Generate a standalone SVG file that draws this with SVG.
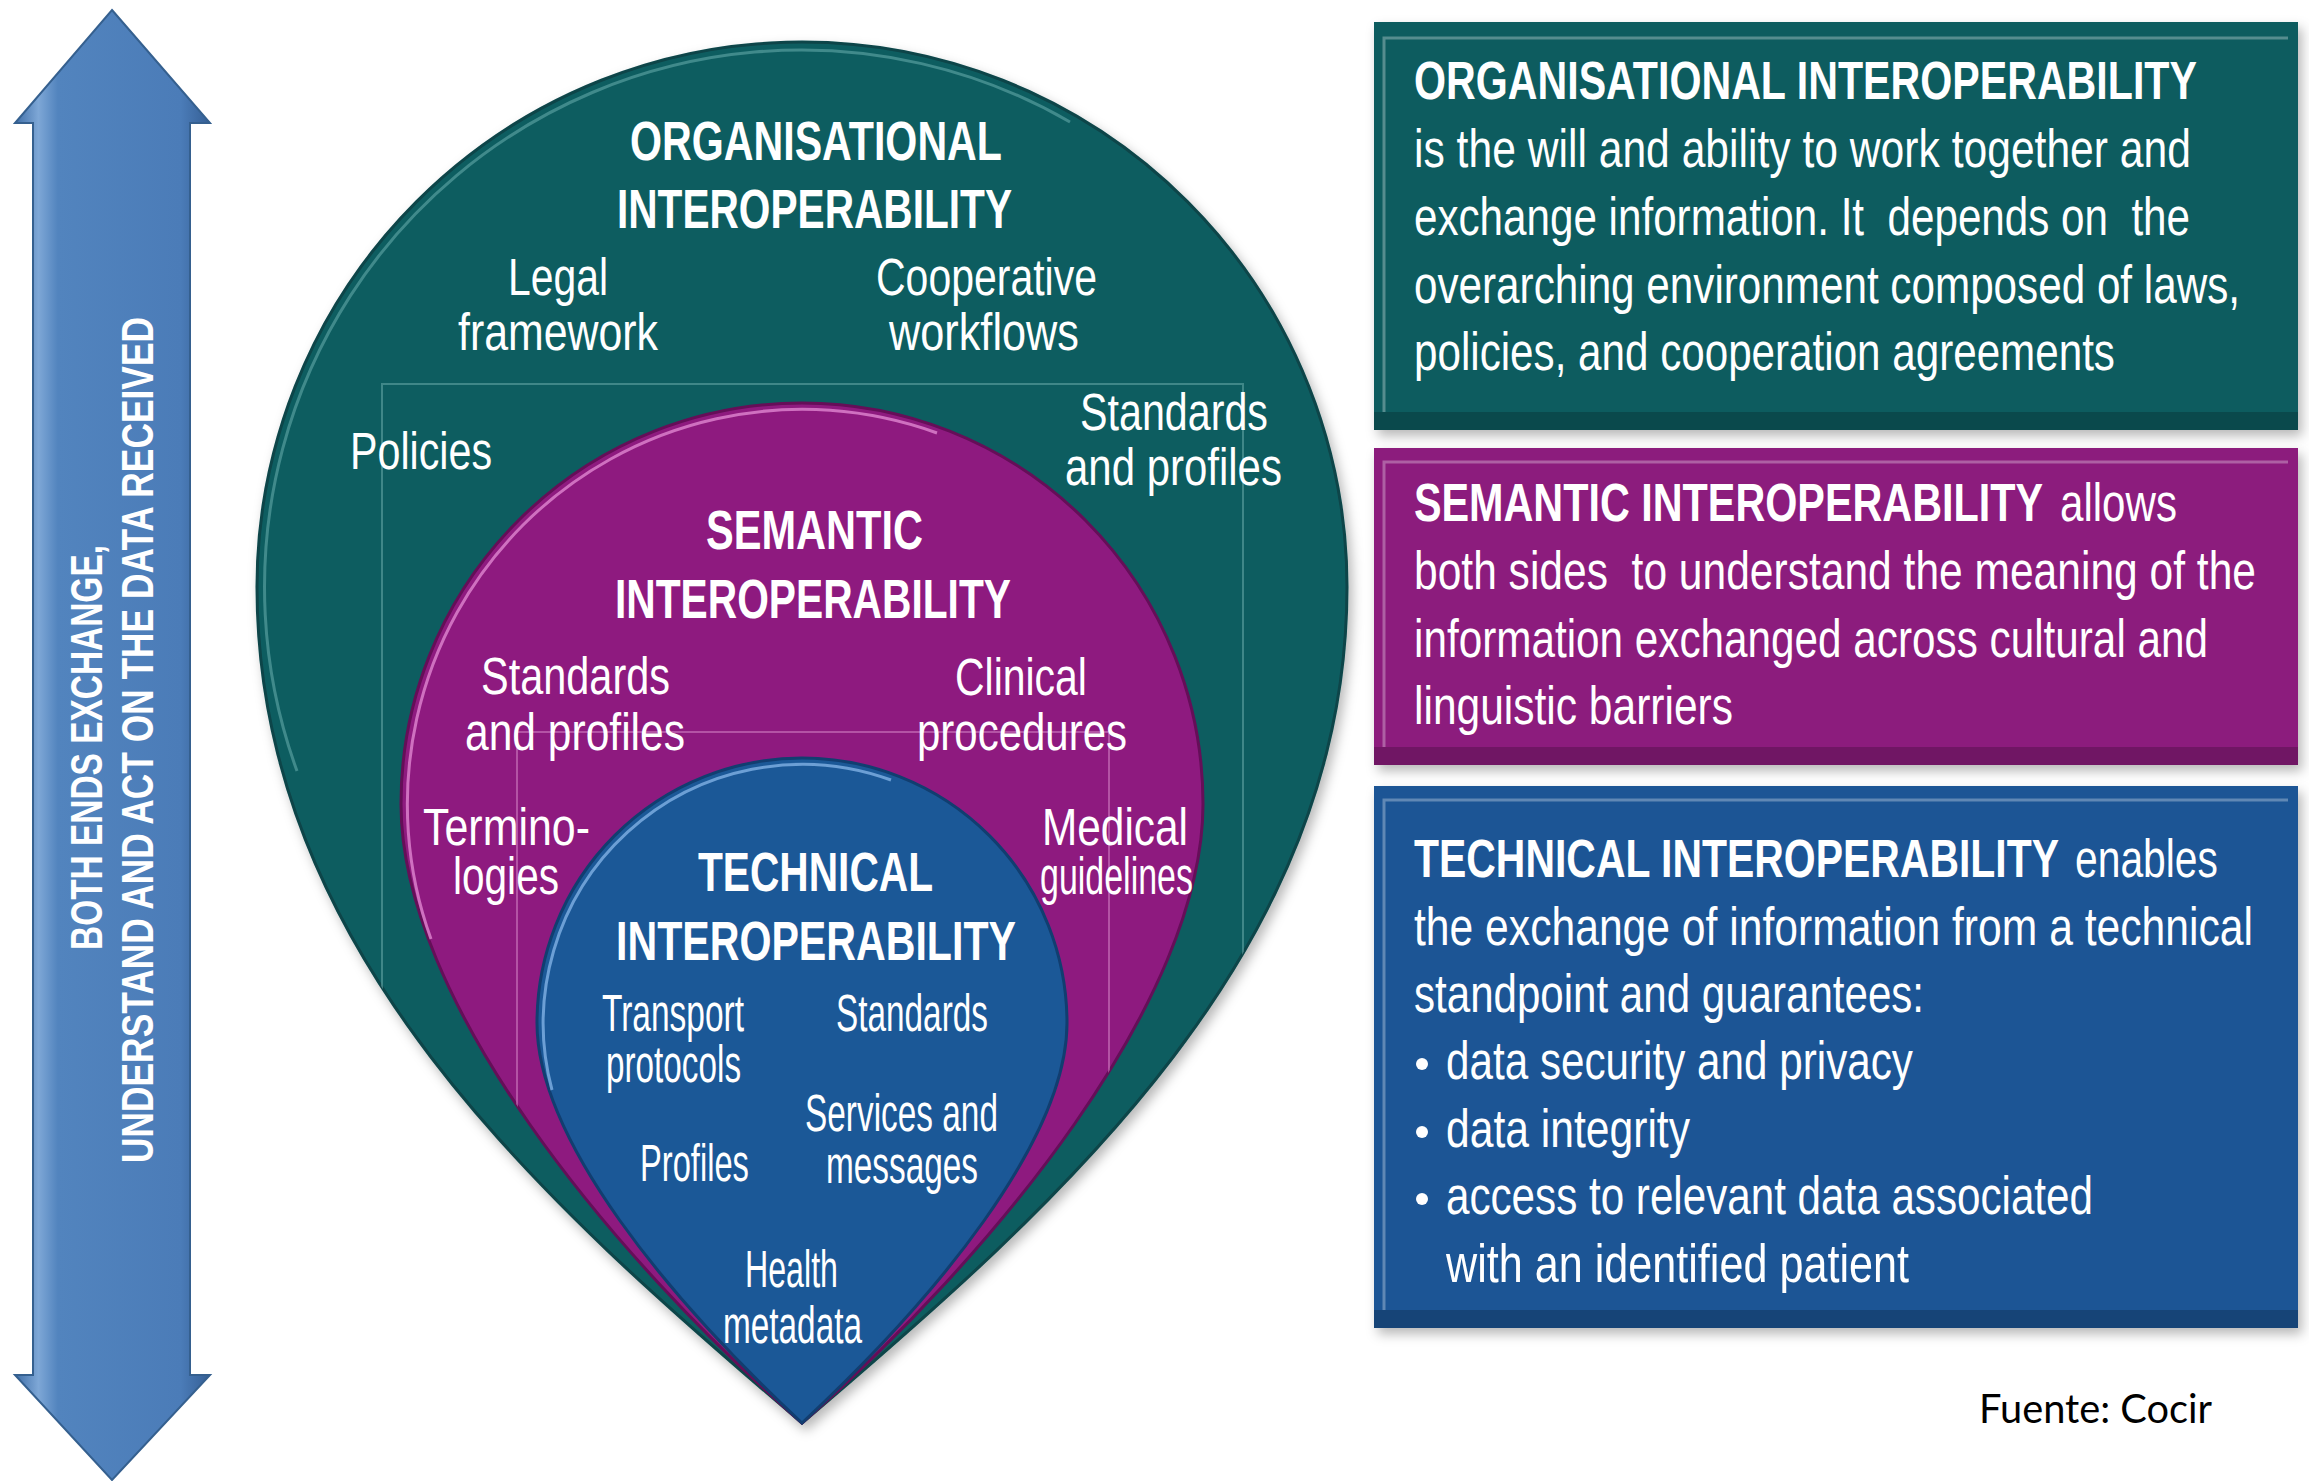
<svg xmlns="http://www.w3.org/2000/svg" width="2309" height="1481" viewBox="0 0 2309 1481">
<style>
  .t { font-family: "Liberation Sans", Arial, sans-serif; fill: #ffffff; }
  .lbl { font-size: 51px; }
  .ttl { font-size: 55px; font-weight: bold; }
  .bx { font-size: 54px; }
  .bxb { font-size: 54px; font-weight: bold; }
  .pre { white-space: pre; }
  .arr { font-family: "Liberation Sans", Arial, sans-serif; font-size: 44px; font-weight: bold; fill: #ffffff; }
  .src { font-family: Lato, "Open Sans", "Liberation Sans", sans-serif; font-size: 40px; fill: #000000; }
  .grid { fill: none; stroke-width: 2; }
</style>
<defs>
  <filter id="sh" x="-10%" y="-10%" width="125%" height="125%">
    <feDropShadow dx="4" dy="6" stdDeviation="6" flood-color="#000" flood-opacity="0.28"/>
  </filter>
  <linearGradient id="arrG" x1="0" y1="0" x2="1" y2="0">
    <stop offset="0" stop-color="#3e6ea8"/>
    <stop offset="0.12" stop-color="#7ea7d6"/>
    <stop offset="0.22" stop-color="#5284be"/>
    <stop offset="0.85" stop-color="#4b7cb8"/>
    <stop offset="1" stop-color="#355f95"/>
  </linearGradient>
  <path id="tealP" d="M 257 587 A 545 545 0 0 1 1347 587 C 1347 950, 1064 1200, 802 1423 C 540 1200, 257 950, 257 587 Z"/>
  <path id="magP" d="M 401 804 A 401 401 0 0 1 1203 804 C 1203 1000, 994 1255, 802 1423 C 610 1255, 401 1000, 401 804 Z"/>
  <path id="bluP" d="M 537 1023 A 265 265 0 0 1 1067 1023 C 1067 1140, 934 1300, 802 1423 C 670 1300, 537 1140, 537 1023 Z"/>
  <clipPath id="clipT"><use href="#tealP"/></clipPath>
  <clipPath id="clipM"><use href="#magP"/></clipPath>
</defs>

<rect x="0" y="0" width="2309" height="1481" fill="#ffffff"/>

<!-- double-headed arrow -->
<g id="arrow">
  <path d="M 112 10 L 210 123 L 190 123 L 190 1375 L 210 1375 L 112 1480 L 15 1375 L 33 1375 L 33 123 L 15 123 Z" fill="url(#arrG)" stroke="#35608f" stroke-width="2" stroke-linejoin="miter"/>
  <text class="arr" transform="translate(102,950) rotate(-90) scale(0.78,1)" x="0" y="0" textLength="519.2" lengthAdjust="spacingAndGlyphs">BOTH ENDS EXCHANGE,</text>
  <text class="arr" transform="translate(153,1163) rotate(-90) scale(0.78,1)" x="0" y="0" textLength="1084.6" lengthAdjust="spacingAndGlyphs">UNDERSTAND AND ACT ON THE DATA RECEIVED</text>
</g>

<!-- organisational (teal) -->
<g id="organisational">
  <use href="#tealP" fill="#0f5d61" stroke="#0a4548" stroke-width="3" filter="url(#sh)"/>
  <path d="M 297 771 A 537 537 0 0 1 1070 122" fill="none" stroke="#7fc0c0" stroke-opacity="0.45" stroke-width="3"/>
  <g clip-path="url(#clipT)">
    <path class="grid" d="M 382 1200 V 384 H 1243 V 1200" stroke="#6aa9a9" stroke-opacity="0.55"/>
  </g>
  <text class="t ttl" transform="matrix(0.74,0,0,1,163.8,0)" x="630" y="160" textLength="502.7" lengthAdjust="spacingAndGlyphs">ORGANISATIONAL</text>
  <text class="t ttl" transform="matrix(0.74,0,0,1,160.42,0)" x="617" y="228" textLength="533.8" lengthAdjust="spacingAndGlyphs">INTEROPERABILITY</text>
  <text class="t lbl" transform="matrix(0.83,0,0,1,86.36,0)" x="508" y="295" textLength="120.5" lengthAdjust="spacingAndGlyphs">Legal</text>
  <text class="t lbl" transform="matrix(0.83,0,0,1,77.86,0)" x="458" y="350" textLength="241" lengthAdjust="spacingAndGlyphs">framework</text>
  <text class="t lbl" transform="matrix(0.83,0,0,1,148.92,0)" x="876" y="295" textLength="266.3" lengthAdjust="spacingAndGlyphs">Cooperative</text>
  <text class="t lbl" transform="matrix(0.83,0,0,1,151.13,0)" x="889" y="350" textLength="228.9" lengthAdjust="spacingAndGlyphs">workflows</text>
  <text class="t lbl" transform="matrix(0.83,0,0,1,59.5,0)" x="350" y="469" textLength="171.1" lengthAdjust="spacingAndGlyphs">Policies</text>
  <text class="t lbl" transform="matrix(0.83,0,0,1,183.6,0)" x="1080" y="430" textLength="226.5" lengthAdjust="spacingAndGlyphs">Standards</text>
  <text class="t lbl" transform="matrix(0.83,0,0,1,181.05,0)" x="1065" y="485" textLength="261.4" lengthAdjust="spacingAndGlyphs">and profiles</text>
</g>

<!-- semantic (magenta) -->
<g id="semantic">
  <use href="#magP" fill="#8e1a7f" stroke="#650e58" stroke-width="3"/>
  <path d="M 431 939 A 395 395 0 0 1 937 433" fill="none" stroke="#eb95dc" stroke-opacity="0.7" stroke-width="3"/>
  <g clip-path="url(#clipM)">
    <path class="grid" d="M 517 1300 V 732 H 1109 V 1300" stroke="#d98ccb" stroke-opacity="0.5"/>
  </g>
  <text class="t ttl" transform="matrix(0.74,0,0,1,183.56,0)" x="706" y="549" textLength="293.2" lengthAdjust="spacingAndGlyphs">SEMANTIC</text>
  <text class="t ttl" transform="matrix(0.74,0,0,1,159.9,0)" x="615" y="618" textLength="535.1" lengthAdjust="spacingAndGlyphs">INTEROPERABILITY</text>
  <text class="t lbl" transform="matrix(0.83,0,0,1,81.77,0)" x="481" y="694" textLength="227.7" lengthAdjust="spacingAndGlyphs">Standards</text>
  <text class="t lbl" transform="matrix(0.83,0,0,1,79.05,0)" x="465" y="750" textLength="265.1" lengthAdjust="spacingAndGlyphs">and profiles</text>
  <text class="t lbl" transform="matrix(0.83,0,0,1,162.35,0)" x="955" y="695" textLength="159" lengthAdjust="spacingAndGlyphs">Clinical</text>
  <text class="t lbl" transform="matrix(0.83,0,0,1,155.89,0)" x="917" y="750" textLength="253" lengthAdjust="spacingAndGlyphs">procedures</text>
  <text class="t lbl" transform="matrix(0.83,0,0,1,71.91,0)" x="423" y="845" textLength="201.2" lengthAdjust="spacingAndGlyphs">Termino-</text>
  <text class="t lbl" transform="matrix(0.83,0,0,1,77.01,0)" x="453" y="894" textLength="127.7" lengthAdjust="spacingAndGlyphs">logies</text>
  <text class="t lbl" transform="matrix(0.83,0,0,1,177.14,0)" x="1042" y="845" textLength="175.9" lengthAdjust="spacingAndGlyphs">Medical</text>
  <text class="t lbl" transform="matrix(0.83,0,0,1,176.8,0)" x="1040" y="894" textLength="184.3" lengthAdjust="spacingAndGlyphs">guidelines</text>
</g>

<!-- technical (blue) -->
<g id="technical">
  <use href="#bluP" fill="#1b5897" stroke="#113e70" stroke-width="3"/>
  <path d="M 552 1090 A 259 259 0 0 1 891 780" fill="none" stroke="#8fbdf0" stroke-opacity="0.7" stroke-width="3"/>
  <text class="t ttl" transform="matrix(0.74,0,0,1,181.48,0)" x="698" y="891" textLength="317.6" lengthAdjust="spacingAndGlyphs">TECHNICAL</text>
  <text class="t ttl" transform="matrix(0.74,0,0,1,160.16,0)" x="616" y="960" textLength="540.5" lengthAdjust="spacingAndGlyphs">INTEROPERABILITY</text>
  <text class="t lbl" transform="matrix(0.83,0,0,1,102.34,0)" x="602" y="1031" textLength="171.1" lengthAdjust="spacingAndGlyphs">Transport</text>
  <text class="t lbl" transform="matrix(0.83,0,0,1,103.02,0)" x="606" y="1082" textLength="162.7" lengthAdjust="spacingAndGlyphs">protocols</text>
  <text class="t lbl" transform="matrix(0.83,0,0,1,142.12,0)" x="836" y="1031" textLength="183.1" lengthAdjust="spacingAndGlyphs">Standards</text>
  <text class="t lbl" transform="matrix(0.83,0,0,1,136.85,0)" x="805" y="1131" textLength="232.5" lengthAdjust="spacingAndGlyphs">Services and</text>
  <text class="t lbl" transform="matrix(0.83,0,0,1,140.42,0)" x="826" y="1183" textLength="183.1" lengthAdjust="spacingAndGlyphs">messages</text>
  <text class="t lbl" transform="matrix(0.83,0,0,1,108.8,0)" x="640" y="1181" textLength="131.3" lengthAdjust="spacingAndGlyphs">Profiles</text>
  <text class="t lbl" transform="matrix(0.83,0,0,1,126.65,0)" x="745" y="1287" textLength="112" lengthAdjust="spacingAndGlyphs">Health</text>
  <text class="t lbl" transform="matrix(0.83,0,0,1,122.91,0)" x="723" y="1343" textLength="167.5" lengthAdjust="spacingAndGlyphs">metadata</text>
</g>

<!-- description boxes -->
<g id="box-organisational">
  <rect x="1374" y="22" width="924" height="408" fill="#0f5c5e" filter="url(#sh)"/>
  <rect x="1374" y="412" width="924" height="18" fill="#000" fill-opacity="0.2"/>
  <path d="M 1384 412 V 38 H 2288" fill="none" stroke="#ffffff" stroke-opacity="0.3" stroke-width="3"/>
  <text class="t bxb" transform="matrix(0.75,0,0,1,353.5,0)" x="1414" y="99" textLength="1044" lengthAdjust="spacingAndGlyphs">ORGANISATIONAL INTEROPERABILITY</text>
  <text class="t bx" transform="matrix(0.79,0,0,1,296.94,0)" x="1414" y="167" textLength="983.5" lengthAdjust="spacingAndGlyphs">is the will and ability to work together and</text>
  <text class="t bx pre" transform="matrix(0.79,0,0,1,296.94,0)" x="1414" y="235" textLength="982.3" lengthAdjust="spacingAndGlyphs">exchange information. It  depends on  the</text>
  <text class="t bx" transform="matrix(0.79,0,0,1,296.94,0)" x="1414" y="303" textLength="1045.6" lengthAdjust="spacingAndGlyphs">overarching environment composed of laws,</text>
  <text class="t bx" transform="matrix(0.79,0,0,1,296.94,0)" x="1414" y="370" textLength="887.3" lengthAdjust="spacingAndGlyphs">policies, and cooperation agreements</text>
</g>

<g id="box-semantic">
  <rect x="1374" y="448" width="924" height="317" fill="#8c1b7d" filter="url(#sh)"/>
  <rect x="1374" y="747" width="924" height="18" fill="#000" fill-opacity="0.2"/>
  <path d="M 1384 747 V 462 H 2288" fill="none" stroke="#ffffff" stroke-opacity="0.3" stroke-width="3"/>
  <text class="t bxb" transform="matrix(0.75,0,0,1,353.5,0)" x="1414" y="521" textLength="838.7" lengthAdjust="spacingAndGlyphs">SEMANTIC INTEROPERABILITY</text>
  <text class="t bx" transform="matrix(0.79,0,0,1,432.6,0)" x="2060" y="521" textLength="148.1" lengthAdjust="spacingAndGlyphs">allows</text>
  <text class="t bx pre" transform="matrix(0.79,0,0,1,296.94,0)" x="1414" y="589" textLength="1065.8" lengthAdjust="spacingAndGlyphs">both sides  to understand the meaning of the</text>
  <text class="t bx" transform="matrix(0.79,0,0,1,296.94,0)" x="1414" y="657" textLength="1005.1" lengthAdjust="spacingAndGlyphs">information exchanged across cultural and</text>
  <text class="t bx" transform="matrix(0.79,0,0,1,296.94,0)" x="1414" y="724" textLength="403.8" lengthAdjust="spacingAndGlyphs">linguistic barriers</text>
</g>

<g id="box-technical">
  <rect x="1374" y="786" width="924" height="542" fill="#1a5595" filter="url(#sh)"/>
  <rect x="1374" y="1310" width="924" height="18" fill="#000" fill-opacity="0.2"/>
  <path d="M 1384 1310 V 800 H 2288" fill="none" stroke="#ffffff" stroke-opacity="0.3" stroke-width="3"/>
  <text class="t bxb" transform="matrix(0.75,0,0,1,353.5,0)" x="1414" y="877" textLength="860" lengthAdjust="spacingAndGlyphs">TECHNICAL INTEROPERABILITY</text>
  <text class="t bx" transform="matrix(0.79,0,0,1,435.75,0)" x="2075" y="877" textLength="181" lengthAdjust="spacingAndGlyphs">enables</text>
  <text class="t bx" transform="matrix(0.79,0,0,1,296.94,0)" x="1414" y="945" textLength="1062" lengthAdjust="spacingAndGlyphs">the exchange of information from a technical</text>
  <text class="t bx" transform="matrix(0.79,0,0,1,296.94,0)" x="1414" y="1012" textLength="645.6" lengthAdjust="spacingAndGlyphs">standpoint and guarantees:</text>
  <circle cx="1422" cy="1064" r="6" fill="#ffffff"/>
  <text class="t bx" transform="matrix(0.79,0,0,1,303.66,0)" x="1446" y="1079" textLength="591.1" lengthAdjust="spacingAndGlyphs">data security and privacy</text>
  <circle cx="1422" cy="1132" r="6" fill="#ffffff"/>
  <text class="t bx" transform="matrix(0.79,0,0,1,303.66,0)" x="1446" y="1147" textLength="308.9" lengthAdjust="spacingAndGlyphs">data integrity</text>
  <circle cx="1422" cy="1199" r="6" fill="#ffffff"/>
  <text class="t bx" transform="matrix(0.79,0,0,1,303.66,0)" x="1446" y="1214" textLength="819" lengthAdjust="spacingAndGlyphs">access to relevant data associated</text>
  <text class="t bx" transform="matrix(0.79,0,0,1,303.66,0)" x="1446" y="1282" textLength="586.1" lengthAdjust="spacingAndGlyphs">with an identified patient</text>
</g>

<g id="source">
  <text class="src" x="1979" y="1423" textLength="233" lengthAdjust="spacingAndGlyphs">Fuente: Cocir</text>
</g>
</svg>
